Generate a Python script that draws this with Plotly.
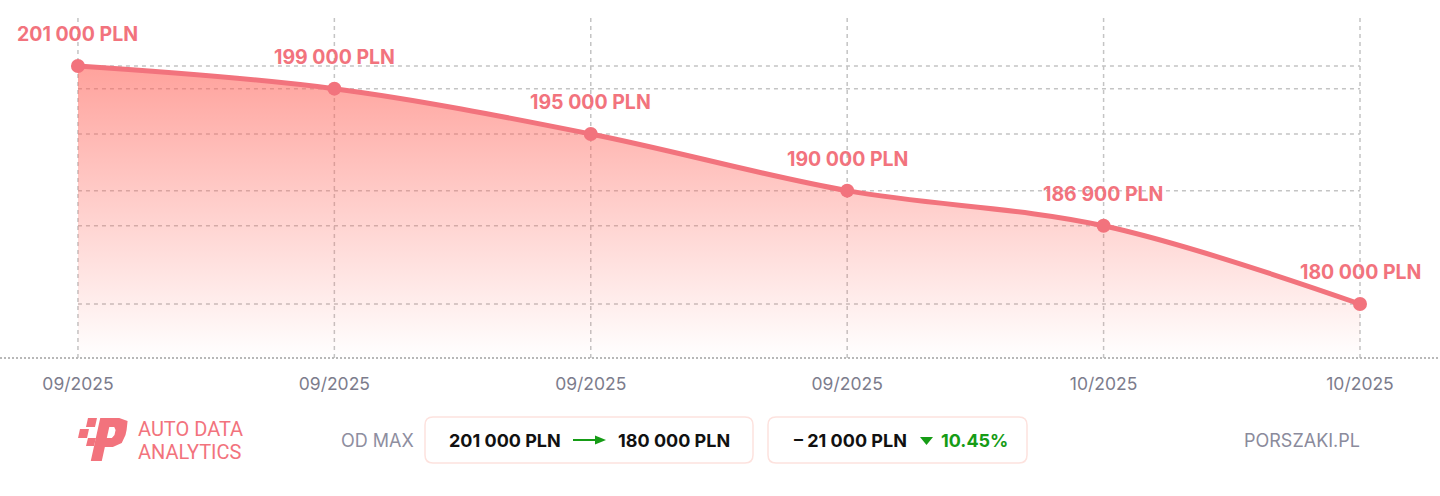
import plotly.graph_objects as go

# ---- data ----
dates = ["09/2025", "09/2025", "09/2025", "09/2025", "10/2025", "10/2025"]
prices = [201000, 199000, 195000, 190000, 186900, 180000]
price_labels = ["201 000 PLN", "199 000 PLN", "195 000 PLN", "190 000 PLN", "186 900 PLN", "180 000 PLN"]
summary_from = "201 000 PLN"
summary_to = "180 000 PLN"
summary_diff = "– 21 000 PLN"
summary_pct = "10.45%"

W, H = 1440, 496
TOP, BOT = 15, 358          # plot area pixel rows
Y_LO, Y_HI = 175235, 205500
xs = list(range(len(prices)))
X_LO, X_HI = -0.304, 5.312

LINE = "#F2737D"
GRID = "#c4c4c4"
FONT = "Inter"


def px(x, y):
    """pixel -> paper coords"""
    return x / W, (BOT - y) / (BOT - TOP)


def path_from(points_cmds):
    out = []
    for cmd, pts in points_cmds:
        coords = []
        for (x, y) in pts:
            a, b = px(x, y)
            coords.append(f"{a:.6f},{b:.6f}")
        out.append(cmd + " ".join(coords))
    return " ".join(out) + " Z"


def rounded_rect(x0, y0, x1, y1, r):
    return path_from([
        ("M", [(x0 + r, y0)]), ("L", [(x1 - r, y0)]), ("Q", [(x1, y0), (x1, y0 + r)]),
        ("L", [(x1, y1 - r)]), ("Q", [(x1, y1), (x1 - r, y1)]),
        ("L", [(x0 + r, y1)]), ("Q", [(x0, y1), (x0, y1 - r)]),
        ("L", [(x0, y0 + r)]), ("Q", [(x0, y0), (x0 + r, y0)]),
    ])


fig = go.Figure()

# baseline trace for fill
fig.add_trace(go.Scatter(x=xs, y=[Y_LO] * len(xs), mode="lines",
                         line=dict(width=0, color="rgba(0,0,0,0)"),
                         hoverinfo="skip", showlegend=False))
fig.add_trace(go.Scatter(
    x=xs, y=prices, mode="lines+markers",
    line=dict(color=LINE, width=5, shape="spline", smoothing=1.0),
    marker=dict(size=14, color=LINE),
    fill="tonexty",
    fillgradient=dict(type="vertical",
                      colorscale=[[0, "rgba(255,100,90,0.0)"], [1, "rgba(255,100,90,0.6)"]]),
    showlegend=False, hoverinfo="skip"))

shapes = []
# horizontal dashed guides at each value
for v in prices:
    shapes.append(dict(type="line", xref="x", yref="y", x0=xs[0], x1=xs[-1], y0=v, y1=v,
                       line=dict(color=GRID, width=1.5, dash="4px,4px"), layer="below"))
# vertical dashed guides
for x in xs:
    shapes.append(dict(type="line", xref="x", yref="paper", x0=x, x1=x, y0=0, y1=1,
                       line=dict(color=GRID, width=1.5, dash="4px,4px"), layer="below"))
# dotted baseline full width
shapes.append(dict(type="line", xref="paper", yref="paper", x0=0, x1=1, y0=0, y1=0,
                   line=dict(color="#b8b8b8", width=2, dash="2px,2px")))

# boxes
shapes.append(dict(type="path", xref="paper", yref="paper", path=rounded_rect(425, 417, 753, 463, 8),
                   line=dict(color="#fde2de", width=1.5), fillcolor="white"))
shapes.append(dict(type="path", xref="paper", yref="paper", path=rounded_rect(768, 417, 1027, 463, 8),
                   line=dict(color="#fde2de", width=1.5), fillcolor="white"))
# arrow
shapes.append(dict(type="line", xref="paper", yref="paper",
                   x0=px(573, 440)[0], x1=px(597, 440)[0], y0=px(573, 440)[1], y1=px(597, 440)[1],
                   line=dict(color="#169c16", width=2)))
shapes.append(dict(type="path", xref="paper", yref="paper",
                   path=path_from([("M", [(595, 435.5)]), ("L", [(606, 440)]), ("L", [(595, 444.5)])]),
                   line=dict(width=0), fillcolor="#169c16"))
# down triangle
shapes.append(dict(type="path", xref="paper", yref="paper",
                   path=path_from([("M", [(920, 437)]), ("L", [(933, 437)]), ("L", [(926.5, 445)])]),
                   line=dict(width=0), fillcolor="#169c16"))


# logo: slanted P with speed squares
def slant(points, x0, y0, h=42, k=0.22):
    return [(x0 + x + (h - y) * k, y0 + y) for (x, y) in points]


p_outer = slant([(0, 43), (0, 0), (19, 0), (28, 3), (29, 12), (29, 17), (27, 25), (19, 29), (11, 29), (11, 43)], 91, 418)
p_inner = slant([(11, 9), (16, 9), (18, 12), (18, 17), (16, 20), (11, 20)], 91, 418)
shapes.append(dict(type="path", xref="paper", yref="paper",
                   path=path_from([("M", [p_outer[0]])] + [("L", [p]) for p in p_outer[1:]]),
                   line=dict(width=0), fillcolor=LINE))
shapes.append(dict(type="path", xref="paper", yref="paper",
                   path=path_from([("M", [p_inner[0]])] + [("L", [p]) for p in p_inner[1:]]),
                   line=dict(width=0), fillcolor="white"))
for (sx, sy, s) in [(86, 418, 9), (78, 429, 9), (86, 438, 8)]:
    sq = [(sx + 2, sy), (sx + s + 2, sy), (sx + s, sy + s), (sx, sy + s)]
    shapes.append(dict(type="path", xref="paper", yref="paper",
                       path=path_from([("M", [sq[0]])] + [("L", [p]) for p in sq[1:]]),
                       line=dict(width=0), fillcolor=LINE))

annotations = []
for x, v, lab in zip(xs, prices, price_labels):
    annotations.append(dict(x=x, y=v, xref="x", yref="y", text=lab, showarrow=False,
                            yshift=32, font=dict(family=FONT, size=19.5, color=LINE, weight=700)))


def txt(x, y, text, size=18, color="#111", weight=400, xanchor="center", family=FONT):
    a, b = px(x, y)
    annotations.append(dict(x=a, y=b, xref="paper", yref="paper", text=text, showarrow=False,
                            xanchor=xanchor, yanchor="middle",
                            font=dict(family=family, size=size, color=color, weight=weight)))


txt(136, 429, "AUTO DATA", size=20, color=LINE, xanchor="left", family="Roboto")
txt(136, 452, "ANALYTICS", size=20, color=LINE, xanchor="left", family="Roboto")
txt(377, 440, "OD MAX", size=18, color="#8e8ea0")
txt(505, 440, summary_from, size=18, color="#111", weight=700)
txt(674, 440, summary_to, size=18, color="#111", weight=700)
txt(850, 440, summary_diff, size=18, color="#111", weight=700)
txt(974, 440, summary_pct, size=18, color="#169c16", weight=700)
txt(1302, 440, "PORSZAKI.PL", size=18, color="#8b8b9c")

fig.update_layout(
    width=W, height=H,
    margin=dict(l=0, r=0, t=TOP, b=H - BOT),
    plot_bgcolor="white", paper_bgcolor="white",
    shapes=shapes, annotations=annotations,
    hovermode=False,
    xaxis=dict(range=[X_LO, X_HI], tickmode="array", tickvals=xs, ticktext=dates,
               showgrid=False, zeroline=False, showline=False, fixedrange=True,
               ticks="outside", ticklen=10, tickcolor="rgba(0,0,0,0)",
               tickfont=dict(family=FONT, size=17.5, color="#7c7c8c")),
    yaxis=dict(range=[Y_LO, Y_HI], showgrid=False, zeroline=False, showticklabels=False,
               fixedrange=True),
)

fig.write_html("out.html", config={"displayModeBar": False},
               post_script="document.body.style.margin='0';")
